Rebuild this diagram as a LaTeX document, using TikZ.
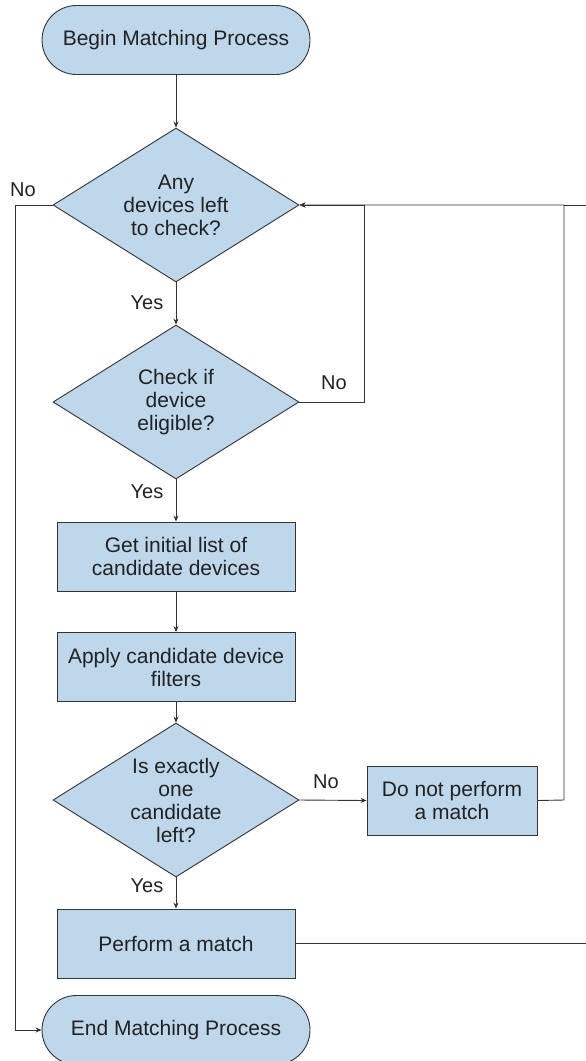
\documentclass[tikz,border=0pt]{standalone}
\usepackage{fontspec}
\setmainfont{Liberation Sans}
\usetikzlibrary{shapes.geometric,shapes.misc,arrows.meta}
\definecolor{boxfill}{RGB}{190,215,235}
\definecolor{linec}{RGB}{51,51,51}
\definecolor{textc}{RGB}{34,34,34}
\tikzset{
  base/.style={draw=linec, line width=0.9pt, fill=boxfill, inner sep=0pt, text=textc,
    font=\fontsize{21}{23}\selectfont, align=center},
  term/.style={base, rounded rectangle, minimum width=268pt, minimum height=69pt},
  dia/.style={base, diamond, minimum width=246pt, minimum height=154pt},
  proc/.style={base, rectangle, minimum width=238pt, minimum height=69pt},
  small/.style={base, rectangle, minimum width=170pt, minimum height=69pt},
  dtext/.style={text=textc, font=\fontsize{21}{23}\selectfont, align=center, inner sep=0pt},
  lbl/.style={text=textc, font=\fontsize{20}{23}\selectfont, inner sep=0pt},
  conn/.style={draw=linec, line width=0.9pt},
  arr/.style={conn, -{Stealth[length=6pt,width=5pt]}}
}
\begin{document}
\begin{tikzpicture}[x=1pt,y=-1pt]
\useasboundingbox (0,0) rectangle (586,1061);
\clip (0,0) rectangle (586,1061);
% nodes
\node[term] (begin) at (176,40) {Begin Matching Process};
\node[dia] (d1) at (176,205) {};
\node[dtext] (t1) at (176,205) {Any\\devices left\\to check?};
\node[dia] (d2) at (176,402) {};
\node[dtext] (t2) at (176,402) {Check if\\device\\eligible?};
\node[proc] (r1) at (176,556.5) {Get initial list of\\candidate devices};
\node[proc] (r2) at (176,667) {Apply candidate device\\filters};
\node[dia] (d3) at (176,800) {};
\node[dtext] (t3) at (176,800) {Is exactly\\one\\candidate\\left?};
\node[small] (r4) at (452,800.5) {Do not perform\\a match};
\node[proc] (r3) at (176,943.5) {Perform a match};
\node[term] (end) at (176,1030) {End Matching Process};
% coordinates
\coordinate (lx1) at (15,205);
\coordinate (lx2) at (15,1030);
\coordinate (nx1) at (364,402);
\coordinate (nx2) at (364,205);
\coordinate (rx1) at (564,800);
\coordinate (rx2) at (564,205);
\coordinate (edge1) at (586,205);
\coordinate (edge2) at (586,943.5);
% connectors
\draw[arr] (begin.south) -- (d1.north);
\draw[arr] (d1.south) -- (d2.north);
\draw[arr] (d2.south) -- (r1.north);
\draw[arr] (r1.south) -- (r2.north);
\draw[arr] (r2.south) -- (d3.north);
\draw[arr] (d3.east) -- (r4.west);
\draw[arr] (d3.south) -- (r3.north);
\draw[arr] (d2.east) -- (nx1) -- (nx2) -- (d1.east);
\draw[arr] (r4.east) -- (rx1) -- (rx2) -- (d1.east);
\draw[conn] (edge1) -- (rx2);
\draw[conn] (r3.east) -- (edge2);
\draw[arr] (d1.west) -- (lx1) -- (lx2) -- (end.west);
% labels
\node[lbl] (no1) at (23,190) {No};
\node[lbl] (yes1) at (147,303) {Yes};
\node[lbl] (no2) at (334,383) {No};
\node[lbl] (yes2) at (147,492) {Yes};
\node[lbl] (no3) at (326,782) {No};
\node[lbl] (yes3) at (147,886) {Yes};
\end{tikzpicture}
\end{document}
